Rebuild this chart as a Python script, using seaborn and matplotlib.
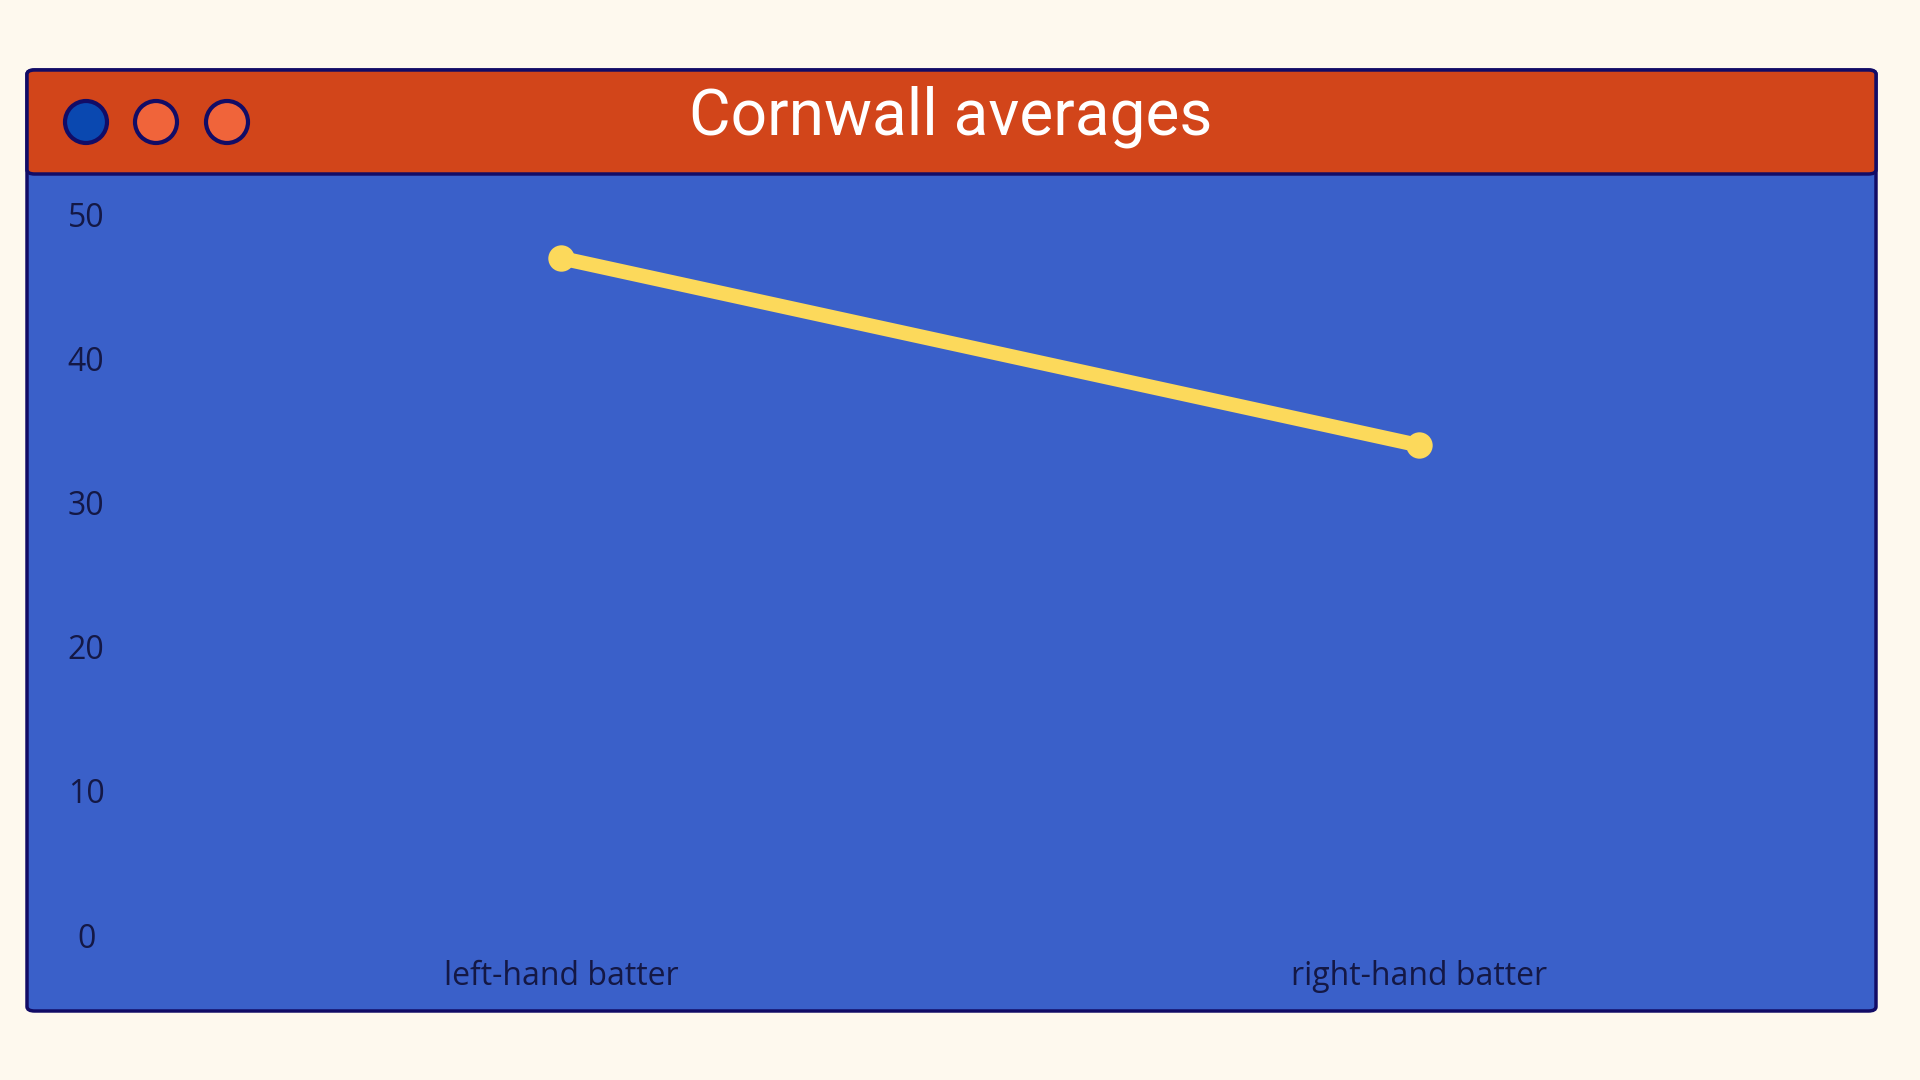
import matplotlib
matplotlib.use("Agg")
import matplotlib.pyplot as plt
from matplotlib.patches import FancyBboxPatch, Ellipse
import pandas as pd
import seaborn as sns

# data
categories = ["left-hand batter", "right-hand batter"]
averages = [47, 34]
y_ticks = [0, 10, 20, 30, 40, 50]
title = "Cornwall averages"

bg = "#FEF9EE"
bar_col = "#D2451A"
panel_col = "#3A60C9"
edge_col = "#120C66"
line_col = "#FCD95B"
text_col = "#141845"

sns.set_theme(style="white")
plt.rcParams["font.family"] = ["Open Sans", "DejaVu Sans"]

df = pd.DataFrame({"batter": categories, "average": averages})

fig = plt.figure(figsize=(19.2, 10.8), dpi=100)
fig.patch.set_facecolor(bg)

W, H = 1920, 1080
def fx(px):
    return px / W
def fy(py):
    return 1 - py / H

# window frame
x0, x1 = 27, 1876
top, bar_bot, bot = 70, 174, 1011
frame = FancyBboxPatch((fx(x0), fy(bot)), fx(x1 - x0), (bot - top) / H,
                       boxstyle="round,pad=0,rounding_size=0.004",
                       transform=fig.transFigure, facecolor=panel_col,
                       edgecolor=edge_col, linewidth=2.5, zorder=0)
fig.patches.append(frame)
titlebar = FancyBboxPatch((fx(x0), fy(bar_bot)), fx(x1 - x0), (bar_bot - top) / H,
                          boxstyle="round,pad=0,rounding_size=0.004",
                          transform=fig.transFigure, facecolor=bar_col,
                          edgecolor=edge_col, linewidth=2.5, zorder=1)
fig.patches.append(titlebar)

for cx, col in [(86, "#0A48B0"), (156, "#F0643A"), (227, "#F0643A")]:
    c = Ellipse((fx(cx), fy(122)), 42 / W, 42 / H,
                transform=fig.transFigure, facecolor=col,
                edgecolor=edge_col, linewidth=3, zorder=2)
    fig.patches.append(c)

fig.text(fx(951), fy(117), title, ha="center", va="center", fontsize=46,
         color="white", family=["Roboto", "DejaVu Sans"])

# plot area
ax_l, ax_r, ax_t, ax_b = 132, 1848, 176, 935
ax = fig.add_axes([fx(ax_l), fy(ax_b), fx(ax_r - ax_l), (ax_b - ax_t) / H])
ax.set_zorder(5)
ax.set_facecolor("none")
sns.lineplot(data=df, x="batter", y="average", ax=ax, color=line_col,
             linewidth=10.5, marker="o", markersize=19, markeredgewidth=0,
             solid_capstyle="round")
ax.set_xlim(-0.5, 1.5)
ax.set_ylim(0, 52.7)
ax.set_yticks(y_ticks)
ax.set_xlabel("")
ax.set_ylabel("")
for s in ax.spines.values():
    s.set_visible(False)
ax.tick_params(axis="y", length=0, pad=33, labelsize=23, labelcolor=text_col)
ax.tick_params(axis="x", length=0, pad=18, labelsize=23, labelcolor=text_col)
for lab in ax.get_yticklabels():
    lab.set_horizontalalignment("center")
ax.grid(False)

fig.savefig("out.png", dpi=100, facecolor=bg)
